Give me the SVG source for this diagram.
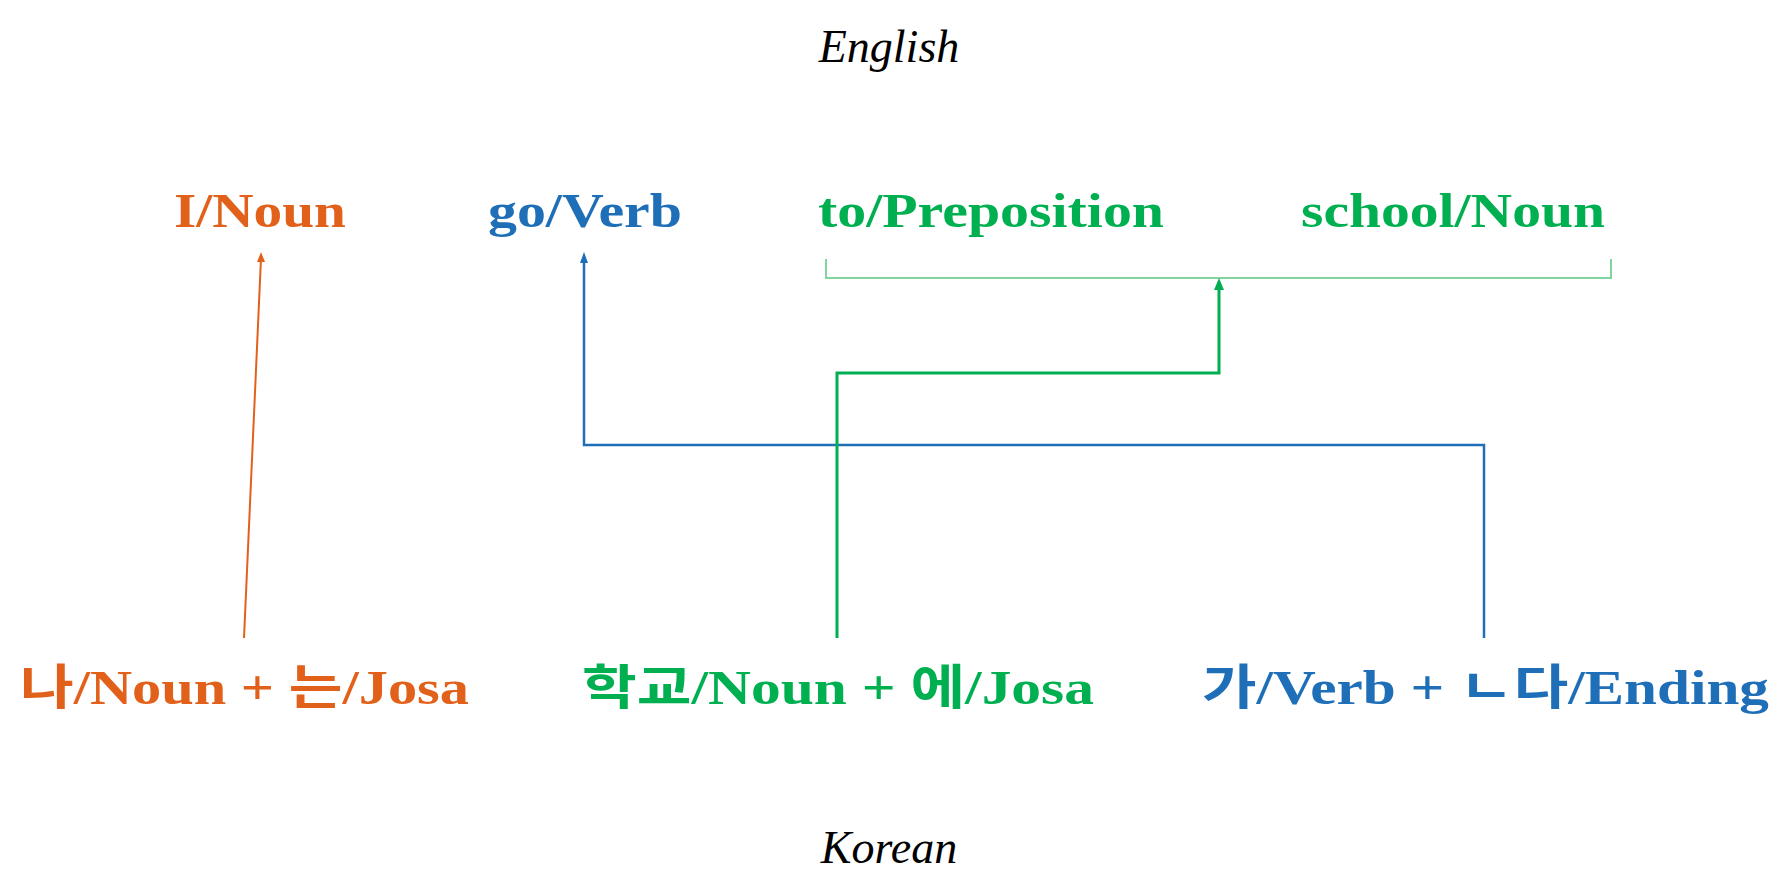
<svg xmlns="http://www.w3.org/2000/svg" width="1781" height="892" viewBox="0 0 1781 892">
<style>
.t{font-family:"Liberation Serif","Noto Sans CJK KR",serif;font-weight:bold;font-size:48px}
.i{font-family:"Liberation Serif",serif;font-style:italic;font-size:46px;text-anchor:middle;fill:#000}
.o{fill:#e2611a}.b{fill:#1f6fb8}.g{fill:#00b050}
</style>
<defs>
<marker id="ao" markerWidth="8" markerHeight="10" refX="4" refY="1" orient="auto-start-reverse" markerUnits="userSpaceOnUse" viewBox="0 0 8 10"><path d="M0,10 L4,0 L8,10Z" fill="#e2611a"/></marker>
</defs>
<text class="i" x="889" y="62">English</text>
<text class="i" x="889" y="863">Korean</text>
<g id="n-i"><text class="t o" x="174" y="227" textLength="172" lengthAdjust="spacingAndGlyphs">I/Noun</text></g>
<g id="n-go"><text class="t b" x="488" y="227" textLength="194" lengthAdjust="spacingAndGlyphs">go/Verb</text></g>
<g id="n-to"><text class="t g" x="818" y="227" textLength="346" lengthAdjust="spacingAndGlyphs">to/Preposition</text></g>
<g id="n-school"><text class="t g" x="1301" y="227" textLength="304" lengthAdjust="spacingAndGlyphs">school/Noun</text></g>
<g id="n-na"><text class="t o" x="20" y="704" textLength="449" lengthAdjust="spacingAndGlyphs">나/Noun + 는/Josa</text></g>
<g id="n-hak"><text class="t g" x="582" y="704" textLength="512" lengthAdjust="spacingAndGlyphs">학교/Noun + 에/Josa</text></g>
<g id="n-ga"><text class="t b" x="1202" y="704" textLength="567" lengthAdjust="spacingAndGlyphs">가/Verb + ㄴ다/Ending</text></g>
<g id="connectors" fill="none">
<path d="M826,259 V278 H1611 V259" stroke="#7fd4a0" stroke-width="2"/>
<path d="M244,638 L261,258" stroke="#e2611a" stroke-width="2"/>
<path d="M261,252 l-4,10 h8z" fill="#e2611a"/>
<path d="M1484,638 V445 H584 V258" stroke="#1f6fb8" stroke-width="2.5"/>
<path d="M584,252 l-4,11 h8z" fill="#1f6fb8"/>
<path d="M837,638 V373 H1219 V286" stroke="#00b050" stroke-width="3"/>
<path d="M1219,278 l-5,12 h10z" fill="#00b050"/>
</g>
</svg>
